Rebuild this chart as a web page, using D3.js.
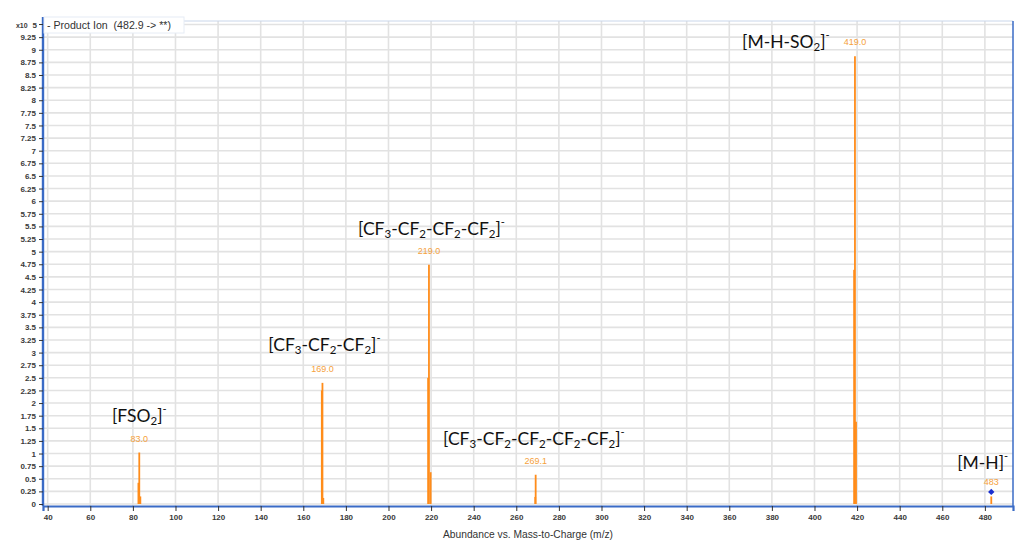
<!DOCTYPE html>
<html>
<head>
<meta charset="utf-8">
<script src="https://cdn.jsdelivr.net/npm/d3@7"></script>
<style>
  html, body { margin: 0; padding: 0; background: #fff; }
  svg { display: block; }
</style>
</head>
<body>
<svg id="chart" width="1019" height="541"></svg>
<script>
// Product ion spectrum of m/z 482.9 (abundance in units of 10^5)
const stickMz        = [82.6, 83.0, 83.5, 168.7, 169.0, 169.4, 218.6, 219.0, 219.8, 268.9, 269.1, 418.6, 419.0, 419.5, 483.0];
const stickAbundance = [0.42, 1.02, 0.15, 2.25,  2.40,  0.12,  2.50,  4.74,  0.63,  0.14,  0.58,  4.64,  8.87,  1.63,  0.15];

// Labelled peak apexes
const peakLabels  = ["83.0", "169.0", "219.0", "269.1", "419.0", "483"];
const peakMz      = [83.0, 169.0, 219.0, 269.1, 419.0, 483.0];
const peakHeight  = [1.02, 2.40, 4.74, 0.58, 8.87, 0.15];

// Precursor marker
const precursorMz = [483.0];
const precursorAbundance = [0.24];

// Axis ticks
const xTicks = d3.range(40, 481, 20);
const yTicks = d3.range(0, 9.26, 0.25);

// Ion assignments: text parts with their kind (plain, sub, sup)
const ionParts = [
  [["[FSO", ""], ["2", "sub"], ["]", ""], ["-", "sup"]],
  [["[CF", ""], ["3", "sub"], ["-CF", ""], ["2", "sub"], ["-CF", ""], ["2", "sub"], ["]", ""], ["-", "sup"]],
  [["[CF", ""], ["3", "sub"], ["-CF", ""], ["2", "sub"], ["-CF", ""], ["2", "sub"], ["-CF", ""], ["2", "sub"], ["]", ""], ["-", "sup"]],
  [["[CF", ""], ["3", "sub"], ["-CF", ""], ["2", "sub"], ["-CF", ""], ["2", "sub"], ["-CF", ""], ["2", "sub"], ["-CF", ""], ["2", "sub"], ["]", ""], ["-", "sup"]],
  [["[M-H-SO", ""], ["2", "sub"], ["]", ""], ["-", "sup"]],
  [["[M-H]", ""], ["-", "sup"]]
];
// left baseline anchor of each assignment, in (m/z, abundance)
const ionAnchorMz = [70.2, 143.6, 185.7, 225.6, 366.0, 467.0];
const ionAnchorAb = [1.63, 3.03, 5.33, 1.17, 9.04, 0.69];

const svg = d3.select("#chart");
const plotLeft = 43, plotRight = 1013, plotTop = 21, plotBottom = 506;

const x = d3.scaleLinear().domain([37.8, 493.2]).range([plotLeft, plotRight]);
const y = d3.scaleLinear().domain([0, 9.55]).range([504, 22]);

// gridlines
const grid = svg.append("g");
grid.selectAll("line.v").data(xTicks).join("line").attr("class", "v")
  .attr("x1", d => x(d)).attr("x2", d => x(d))
  .attr("y1", plotTop).attr("y2", plotBottom)
  .attr("stroke", "#e2e2e2").attr("stroke-width", 1.6);
grid.selectAll("line.h").data(yTicks.concat([9.5])).join("line").attr("class", "h")
  .attr("x1", plotLeft).attr("x2", plotRight)
  .attr("y1", d => y(d)).attr("y2", d => y(d))
  .attr("stroke", "#e2e2e2").attr("stroke-width", 1.6);

// frame
svg.append("line").attr("x1", plotLeft).attr("x2", plotRight).attr("y1", plotTop).attr("y2", plotTop)
  .attr("stroke", "#c9d6ea").attr("stroke-width", 1);
svg.append("line").attr("x1", plotRight).attr("x2", plotRight).attr("y1", plotTop).attr("y2", plotBottom)
  .attr("stroke", "#3a6bc6").attr("stroke-width", 1.5);

// sticks
svg.append("g").selectAll("line").data(stickMz).join("line")
  .attr("x1", d => x(d)).attr("x2", d => x(d))
  .attr("y1", y(0)).attr("y2", (d, i) => y(stickAbundance[i]))
  .attr("stroke", "#ff8c1a").attr("stroke-width", 1.8);

// peak labels
svg.append("g").selectAll("text").data(peakLabels).join("text")
  .attr("x", (d, i) => x(peakMz[i]))
  .attr("y", (d, i) => y(peakHeight[i]) - 11)
  .attr("text-anchor", "middle")
  .attr("font-family", "Liberation Sans, Arial, sans-serif")
  .attr("font-size", 9)
  .attr("fill", "#f5a13c")
  .text(d => d);

// precursor marker
svg.append("g").selectAll("path").data(precursorMz).join("path")
  .attr("d", d3.symbol(d3.symbolDiamond2 || d3.symbolDiamond, 26))
  .attr("transform", (d, i) => `translate(${x(d)},${y(precursorAbundance[i])})`)
  .attr("fill", "#1a2fd0");

// axes
const xAxis = d3.axisBottom(x).tickValues(xTicks).tickSize(5).tickPadding(3).tickFormat(d3.format("d"));
const gx = svg.append("g").attr("transform", `translate(0,${plotBottom})`).call(xAxis);
gx.select(".domain").attr("stroke", "#3a6bc6").attr("stroke-width", 2.2);
gx.selectAll(".tick line").attr("stroke", "#333");
gx.selectAll(".tick text").attr("font-family", "Liberation Sans, Arial, sans-serif")
  .attr("font-size", 8).attr("font-weight", "bold").attr("fill", "#3a3a3a");

const yAxis = d3.axisLeft(y).tickValues(yTicks).tickSize(4).tickPadding(3)
  .tickFormat(d => d3.format("~g")(d));
const gy = svg.append("g").attr("transform", `translate(${plotLeft},0)`).call(yAxis);
gy.select(".domain").attr("d", `M0,${plotTop - 4}V${plotBottom}`).attr("stroke", "#3a6bc6").attr("stroke-width", 2.4);
gy.selectAll(".tick line").attr("stroke", "#333");
gy.selectAll(".tick text").attr("font-family", "Liberation Sans, Arial, sans-serif")
  .attr("font-size", 8).attr("font-weight", "bold").attr("fill", "#3a3a3a");

// exponent at the top of the abundance axis
const ex = svg.append("text").attr("x", plotLeft - 6).attr("y", y(9.5) + 3)
  .attr("text-anchor", "end")
  .attr("font-family", "Liberation Sans, Arial, sans-serif").attr("font-weight", "bold").attr("fill", "#3a3a3a");
ex.append("tspan").attr("font-size", 7).text("x10 ");
ex.append("tspan").attr("font-size", 8).attr("dx", 3).text("5");
svg.append("line").attr("x1", plotLeft - 4).attr("x2", plotLeft).attr("y1", y(9.5)).attr("y2", y(9.5)).attr("stroke", "#333");

// title box
svg.append("rect").attr("x", plotLeft + 1).attr("y", 17).attr("width", 140).attr("height", 16)
  .attr("fill", "#fff").attr("stroke", "#e6ecf5").attr("stroke-width", 1);
svg.append("text").attr("x", 47).attr("y", 29)
  .style("white-space", "pre")
  .attr("font-family", "Liberation Sans Narrow, Liberation Sans, Arial, sans-serif")
  .attr("font-size", 11.5).attr("fill", "#333")
  .attr("textLength", 124).attr("lengthAdjust", "spacingAndGlyphs")
  .text("- Product Ion  (482.9 -> **)");

// axis title
svg.append("text").attr("x", 528).attr("y", 538)
  .attr("text-anchor", "middle")
  .attr("font-family", "Liberation Sans Narrow, Liberation Sans, Arial, sans-serif")
  .attr("font-size", 11).attr("fill", "#333")
  .attr("textLength", 170).attr("lengthAdjust", "spacingAndGlyphs")
  .text("Abundance vs. Mass-to-Charge (m/z)");

// ion assignments
const ions = svg.append("g")
  .attr("font-family", "Lato, Open Sans, sans-serif")
  .attr("fill", "#111");
ionParts.forEach((parts, i) => {
  const t = ions.append("text")
    .attr("x", x(ionAnchorMz[i])).attr("y", y(ionAnchorAb[i]))
    .attr("font-size", 17.5);
  let shift = 0;
  parts.forEach(([s, kind]) => {
    const ts = t.append("tspan").text(s);
    let target = 0;
    if (kind === "sub") { ts.attr("font-size", 11.5); target = 3; }
    else if (kind === "sup") { ts.attr("font-size", 11); target = -9; }
    ts.attr("dy", target - shift);
    shift = target;
  });
});
</script>
</body>
</html>
